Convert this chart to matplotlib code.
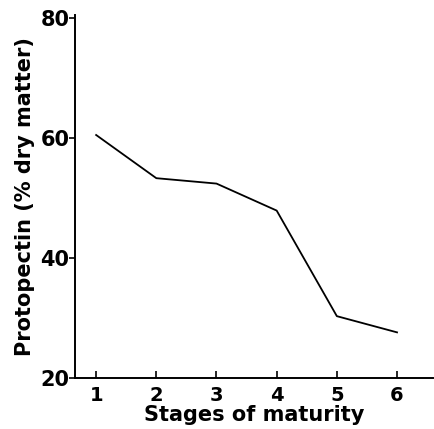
import matplotlib
matplotlib.use("Agg")
import matplotlib.pyplot as plt

stages = [1, 2, 3, 4, 5, 6]
protopectin = [60.5, 53.3, 52.4, 47.9, 30.3, 27.6]
yticks = [20, 40, 60, 80]

plt.rcParams['font.family'] = ['DejaVu Sans']

fig = plt.figure(figsize=(4.34, 4.29), dpi=100)
ax = fig.add_axes([0.173, 0.119, 0.825, 0.846])

ax.plot(stages, protopectin, color="black", linewidth=1.3)

ax.set_xlim(0.65, 6.6)
ax.set_ylim(20, 80.5)
ax.set_xticks(stages)
ax.set_yticks(yticks)

for side in ["top", "right"]:
    ax.spines[side].set_visible(False)
for side in ["left", "bottom"]:
    ax.spines[side].set_linewidth(1.4)

ax.tick_params(axis="y", direction="out", length=4, width=1.2, pad=0,
               labelsize=15)
ax.tick_params(axis="x", direction="in", length=5, width=1.2, pad=6,
               labelsize=14)
for lbl in ax.get_xticklabels() + ax.get_yticklabels():
    lbl.set_fontweight("bold")

ax.set_xlabel("Stages of maturity", fontsize=15, fontweight="bold", labelpad=0)
ax.set_ylabel("Protopectin (% dry matter)", fontsize=15, fontweight="bold",
              labelpad=4)

fig.savefig("out.png", dpi=100)
